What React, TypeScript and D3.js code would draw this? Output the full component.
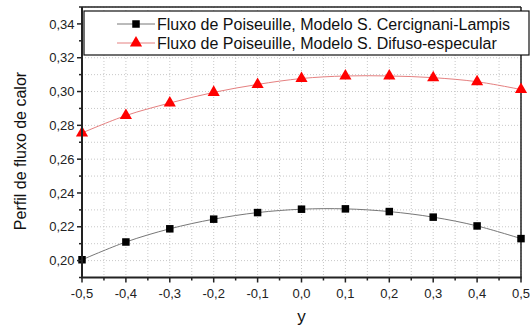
import React from "react";
import * as d3 from "d3";

const yPos = [-0.5, -0.4, -0.3, -0.2, -0.1, 0.0, 0.1, 0.2, 0.3, 0.4, 0.5];
const cercignani = [0.2005, 0.211, 0.2188, 0.2245, 0.2284, 0.2304, 0.2306, 0.229, 0.2257, 0.2205, 0.213];
const difuso = [0.2755, 0.2858, 0.2932, 0.2995, 0.3042, 0.3077, 0.3092, 0.3092, 0.3082, 0.3058, 0.3012];
const xTicks = [-0.5, -0.4, -0.3, -0.2, -0.1, 0.0, 0.1, 0.2, 0.3, 0.4, 0.5];
const yTicks = [0.2, 0.22, 0.24, 0.26, 0.28, 0.3, 0.32, 0.34];
const seriesNames = [
  "Fluxo de Poiseuille, Modelo S. Cercignani-Lampis",
  "Fluxo de Poiseuille, Modelo S. Difuso-especular",
];
const xLabel = "y";
const yLabel = "Perfil de fluxo de calor";

const W = 532;
const H = 327;
const m = { left: 82, right: 521, top: 7, bottom: 277.5 };

export default function App() {
  const x = d3.scaleLinear().domain([-0.5, 0.5]).range([m.left, m.right]);
  const y = d3.scaleLinear().domain([0.19, 0.35]).range([m.bottom, m.top]);
  const xMinor = d3.range(-0.5, 0.5001, 0.05);
  const yMinor = d3.range(0.19, 0.3501, 0.01);
  const fmt = (v: number, d: number) => v.toFixed(d).replace(".", ",");
  const line = d3
    .line<number>()
    .x((_, i) => x(yPos[i]))
    .y((d) => y(d))
    .curve(d3.curveCatmullRom);
  const font = "'Liberation Sans', Arial, sans-serif";
  const tri = d3.symbol(d3.symbolTriangle, 64)();
  const blackC = "#000";
  const redC = "#ff0000";
  const leg = { x0: 84, x1: 529, y0: 11, y1: 55 };
  const rows = [24, 43];

  return (
    <svg width={W} height={H} style={{ position: "absolute", left: 0, top: 0, background: "#fff" }} fontFamily={font}>
      <rect x={0} y={0} width={W} height={H} fill="#fff" />
      {/* grid */}
      {xMinor.map((v, i) => (
        <line key={"gx" + i} x1={x(v)} x2={x(v)} y1={m.top} y2={m.bottom} stroke="#c8c8c8" strokeWidth={1} strokeDasharray="1,2" />
      ))}
      {yMinor.map((v, i) => (
        <line key={"gy" + i} x1={m.left} x2={m.right} y1={y(v)} y2={y(v)} stroke="#c8c8c8" strokeWidth={1} strokeDasharray="1,2" />
      ))}
      {/* frame */}
      <line x1={m.left} x2={m.right} y1={m.top} y2={m.top} stroke="#222" strokeWidth={1.5} />
      <line x1={m.right} x2={m.right} y1={m.top} y2={m.bottom} stroke="#222" strokeWidth={1.5} />
      {/* lines */}
      <path d={line(cercignani) || ""} fill="none" stroke="#777" strokeWidth={1} />
      <path d={line(difuso) || ""} fill="none" stroke="#e58080" strokeWidth={1} />
      {cercignani.map((v, i) => (
        <rect key={"s" + i} x={x(yPos[i]) - 3.75} y={y(v) - 3.75} width={7.5} height={7.5} fill={blackC} />
      ))}
      {difuso.map((v, i) => (
        <path key={"t" + i} d={tri || ""} transform={`translate(${x(yPos[i])},${y(v)})`} fill={redC} />
      ))}
      {/* axes */}
      <line x1={m.left} x2={m.left} y1={m.top} y2={m.bottom} stroke="#222" strokeWidth={2} />
      <line x1={m.left - 1} x2={m.right + 0.75} y1={m.bottom} y2={m.bottom} stroke="#222" strokeWidth={2} />
      {xMinor.map((v, i) => (
        <line key={"xt" + i} x1={x(v)} x2={x(v)} y1={m.bottom} y2={m.bottom + (i % 2 === 0 ? 5 : 3)} stroke="#222" strokeWidth={1.5} />
      ))}
      {yMinor.map((v, i) => (
        <line key={"yt" + i} x1={m.left} x2={m.left - (i % 2 === 1 ? 5 : 3)} y1={y(v)} y2={y(v)} stroke="#222" strokeWidth={1.5} />
      ))}
      {xTicks.map((v, i) => (
        <text key={"xl" + i} x={x(v)} y={297.5} textAnchor="middle" fontSize={13} fill="#222">
          {fmt(v, 1)}
        </text>
      ))}
      {yTicks.map((v, i) => (
        <text key={"yl" + i} x={74.5} y={y(v) + 4.6} textAnchor="end" fontSize={13} fill="#222">
          {fmt(v, 2)}
        </text>
      ))}
      <text x={x(0)} y={322} textAnchor="middle" fontSize={17} fill="#111">
        {xLabel}
      </text>
      <text transform={`translate(26,${151}) rotate(-90)`} textAnchor="middle" fontSize={16} fill="#111">
        {yLabel}
      </text>
      {/* legend */}
      <rect x={leg.x0} y={leg.y0} width={leg.x1 - leg.x0} height={leg.y1 - leg.y0} fill="#fff" stroke="#111" strokeWidth={1.2} />
      <line x1={117} x2={155} y1={rows[0]} y2={rows[0]} stroke="#777" strokeWidth={1} />
      <rect x={136 - 3.75} y={rows[0] - 3.75} width={7.5} height={7.5} fill={blackC} />
      <line x1={117} x2={155} y1={rows[1]} y2={rows[1]} stroke="#e58080" strokeWidth={1} />
      <path d={tri || ""} transform={`translate(136,${rows[1]})`} fill={redC} />
      {seriesNames.map((s, i) => (
        <text key={"ln" + i} x={157} y={rows[i] + 5.6} fontSize={16} fill="#111">
          {s}
        </text>
      ))}
    </svg>
  );
}
